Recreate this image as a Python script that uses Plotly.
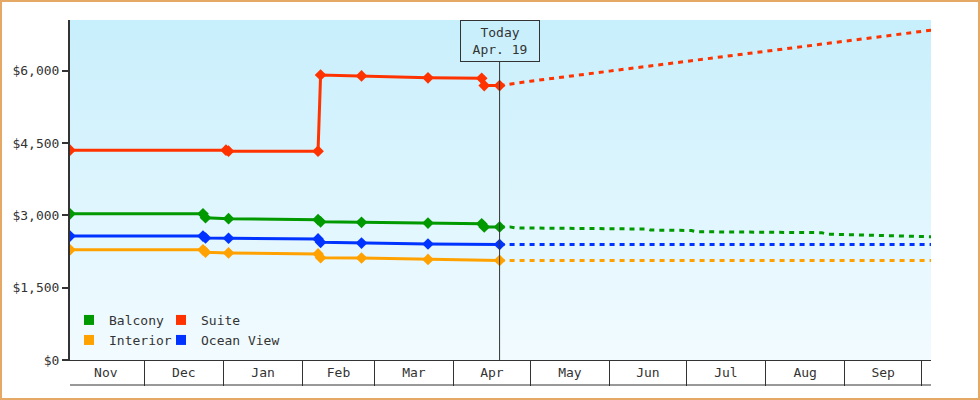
import plotly.graph_objects as go

# fares seen so far (date, price)
balcony_dates = ["2018-11-02", "2018-12-24", "2018-12-25", "2019-01-03", "2019-02-07",
                 "2019-02-08", "2019-02-24", "2019-03-22", "2019-04-12", "2019-04-13", "2019-04-19"]
balcony = [3030, 3030, 2950, 2930, 2910, 2865, 2855, 2840, 2825, 2760, 2760]

ocean_dates = ["2018-11-02", "2018-12-24", "2018-12-25", "2019-01-03", "2019-02-07",
               "2019-02-08", "2019-02-24", "2019-03-22", "2019-04-19"]
ocean = [2570, 2570, 2530, 2525, 2510, 2440, 2425, 2405, 2395]

interior_dates = ["2018-11-02", "2018-12-24", "2018-12-25", "2019-01-03", "2019-02-07",
                  "2019-02-08", "2019-02-24", "2019-03-22", "2019-04-19"]
interior = [2285, 2285, 2235, 2220, 2200, 2120, 2115, 2085, 2065]

suite_dates = ["2018-11-02", "2019-01-02", "2019-01-03", "2019-02-07", "2019-02-08",
               "2019-02-24", "2019-03-22", "2019-04-12", "2019-04-13", "2019-04-19"]
suite = [4350, 4350, 4330, 4330, 5910, 5890, 5850, 5840, 5690, 5690]

# forecast from today on
balcony_fc_dates = ["2019-04-19", "2019-04-23", "2019-04-25", "2019-06-16", "2019-06-17",
                    "2019-07-03", "2019-07-05", "2019-08-23", "2019-08-25", "2019-10-05"]
balcony_fc = [2760, 2760, 2740, 2715, 2695, 2685, 2660, 2640, 2610, 2555]

ocean_fc_dates = ["2019-04-19", "2019-10-05"]
ocean_fc = [2395, 2395]

interior_fc_dates = ["2019-04-19", "2019-10-05"]
interior_fc = [2065, 2065]

suite_fc_dates = ["2019-04-19", "2019-05-01", "2019-06-01", "2019-07-01", "2019-08-01",
                  "2019-09-01", "2019-10-05"]
suite_fc = [5690, 5780, 5990, 6190, 6400, 6610, 6840]

today = "2019-04-19"
y_ticks = [0, 1500, 3000, 4500, 6000]

FONT = "DejaVu Sans Mono"
INK = "#333333"

fig = go.Figure()


def add_series(name, dates, prices, fc_dates, fc_prices, color, legend, lw):
    fig.add_trace(go.Scatter(x=dates, y=prices, mode="lines+markers", name=name,
                             line=dict(color=color, width=3),
                             marker=dict(symbol="diamond", size=9, color=color),
                             showlegend=False))
    fig.add_trace(go.Scatter(x=fc_dates, y=fc_prices, mode="lines", name=name + " forecast",
                             line=dict(color=color, width=3, dash="5px,5px"),
                             showlegend=False))
    # legend swatch only
    fig.add_trace(go.Scatter(x=[None], y=[None], mode="markers", name=name,
                             marker=dict(symbol="square", size=10, color=color),
                             legend=legend, legendwidth=lw))


add_series("Balcony", balcony_dates, balcony, balcony_fc_dates, balcony_fc, "#009900", "legend", 47)
add_series("Suite", suite_dates, suite, suite_fc_dates, suite_fc, "#ff3300", "legend", 90)
add_series("Interior", interior_dates, interior, interior_fc_dates, interior_fc, "#ffa200", "legend2", 47)
add_series("Ocean View", ocean_dates, ocean, ocean_fc_dates, ocean_fc, "#0033ff", "legend2", 90)

# plot area in pixels: x 70..931, y 20..360
L, R, T, B = 70, 931, 20, 360


def px_x(p):
    return (p - L) / (R - L)


def px_y(p):
    return (B - p) / (B - T)


# vertical gradient background made of thin strips
top_c = (200, 239, 252)
bot_c = (242, 251, 255)
n = 34
shapes = []
for i in range(n):
    t = i / (n - 1)
    c = tuple(round(top_c[k] + (bot_c[k] - top_c[k]) * t) for k in range(3))
    shapes.append(dict(type="rect", xref="x domain", yref="y domain",
                       x0=0, x1=1, y0=1 - (i + 1) / n - 0.002, y1=1 - i / n,
                       fillcolor="rgb(%d,%d,%d)" % c, line=dict(width=0), layer="below"))

# today marker line
shapes.append(dict(type="line", xref="x", yref="paper", x0=today, x1=today,
                   y0=0, y1=px_y(61), line=dict(color=INK, width=1)))
# bottom rule of the month band
shapes.append(dict(type="line", xref="paper", yref="paper", x0=0, x1=1,
                   y0=px_y(385), y1=px_y(385), line=dict(color=INK, width=1)))
# outer frame
shapes.append(dict(type="rect", xref="paper", yref="paper",
                   x0=px_x(1), x1=px_x(979), y0=px_y(1), y1=px_y(399),
                   line=dict(color="#e6a865", width=2), fillcolor="rgba(0,0,0,0)"))

fig.update_layout(
    width=980, height=400,
    margin=dict(l=L, r=980 - R, t=T, b=400 - B),
    paper_bgcolor="white",
    plot_bgcolor="rgba(0,0,0,0)",
    font=dict(family=FONT, size=13, color=INK),
    shapes=shapes,
    annotations=[dict(x=today, xref="x", y=1, yref="paper", yanchor="top",
                      text="Today<br>Apr. 19", showarrow=False,
                      width=76, height=38, borderpad=1,
                      bordercolor=INK, borderwidth=1,
                      font=dict(family=FONT, size=13, color=INK))],
    legend=dict(orientation="h", x=px_x(69), y=px_y(320), xanchor="left", yanchor="middle",
                bgcolor="rgba(0,0,0,0)", entrywidthmode="pixels",
                itemsizing="trace", font=dict(family=FONT, size=13, color=INK)),
    legend2=dict(orientation="h", x=px_x(69), y=px_y(340), xanchor="left", yanchor="middle",
                 bgcolor="rgba(0,0,0,0)", entrywidthmode="pixels",
                 itemsizing="trace", font=dict(family=FONT, size=13, color=INK)),
    hovermode="closest",
)

fig.update_xaxes(type="date", range=["2018-11-02", "2019-10-04 17:00"],
                 tick0="2018-11-01", dtick="M1", tickformat="%b", ticklabelmode="period",
                 ticks="outside", ticklen=25, tickwidth=1, tickcolor=INK,
                 ticklabelstandoff=-25,
                 showline=True, linecolor=INK, linewidth=1,
                 showgrid=False, zeroline=False, automargin=False)
fig.update_yaxes(range=[0, 7050], tickvals=y_ticks, tickformat="$,.0f",
                 ticks="outside", ticklen=6, tickwidth=2, tickcolor=INK,
                 showline=True, linecolor=INK, linewidth=2,
                 showgrid=False, zeroline=False, automargin=False)

fig.write_html("out.html", config={"displayModeBar": False},
               post_script="document.body.style.margin='0';")
